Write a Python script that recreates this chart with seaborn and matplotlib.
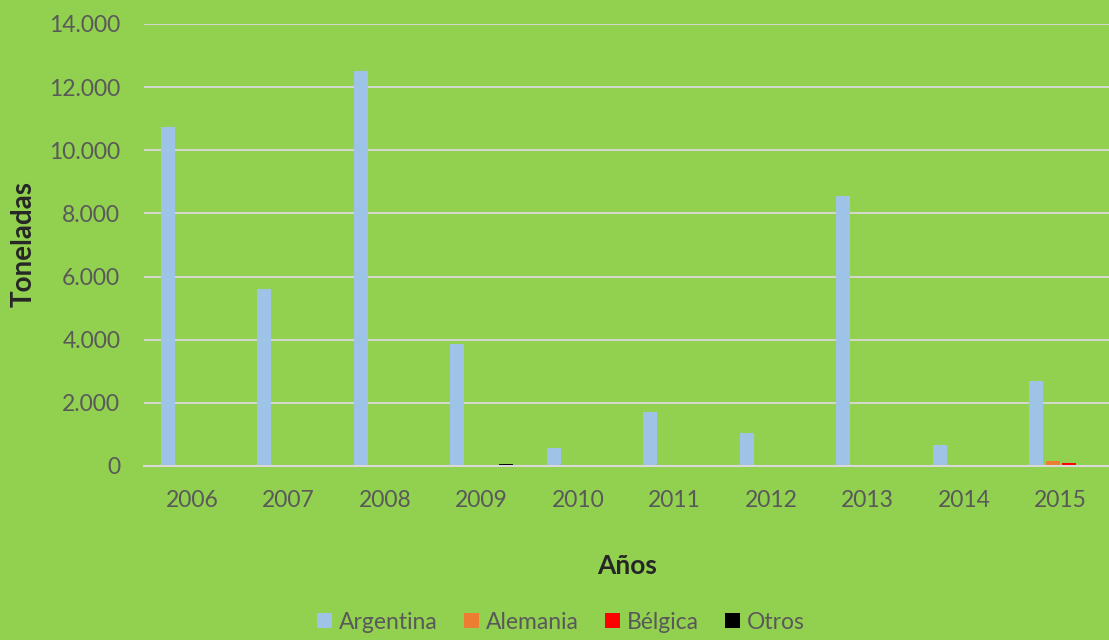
import pandas as pd
import numpy as np
import seaborn as sns
from matplotlib import pyplot as plt
from matplotlib.ticker import FuncFormatter, MultipleLocator

years = ['2006', '2007', '2008', '2009', '2010', '2011', '2012', '2013', '2014', '2015']
argentina = [10750, 5620, 12500, 3860, 570, 1710, 1040, 8550, 660, 2690]
alemania = [0, 0, 0, 0, 0, 0, 0, 0, 0, 150]
belgica = [0, 0, 0, 0, 0, 0, 0, 0, 0, 100]
otros = [0, 0, 0, 60, 0, 0, 0, 0, 0, 0]
series = ['Argentina', 'Alemania', 'Bélgica', 'Otros']
colores = ['#9DC3E6', '#ED7D31', '#FF0000', '#000000']

df = pd.DataFrame({'Año': years * 4,
                   'Pais': np.repeat(series, len(years)),
                   'Toneladas': argentina + alemania + belgica + otros})

sns.set_style('white')
plt.rcParams['font.family'] = ['Lato', 'DejaVu Sans']
verde = '#92D050'

fig = plt.figure(figsize=(11.09, 6.4), dpi=100, facecolor=verde)
ax = fig.add_axes([0.1298, 0.272, 0.8702, 0.6905])
ax.set_facecolor(verde)

sns.barplot(data=df, x='Año', y='Toneladas', hue='Pais', hue_order=series,
            palette=colores, width=0.68, gap=0.15, saturation=1, linewidth=0,
            ax=ax, legend=True)

ax.set_ylim(0, 14000)
ax.yaxis.set_major_locator(MultipleLocator(2000))
ax.yaxis.set_major_formatter(FuncFormatter(lambda v, p: f"{int(v):,}".replace(',', '.')))
ax.grid(axis='y', color='#D9D9D9', linewidth=1.3)
ax.set_axisbelow(True)
for s in ['top', 'right', 'left']:
    ax.spines[s].set_visible(False)
ax.spines['bottom'].set_color('#D9D9D9')
ax.spines['bottom'].set_linewidth(1.5)
ax.tick_params(axis='both', length=0, labelsize=16.5, labelcolor='#595959')
ax.tick_params(axis='y', pad=17)
ax.tick_params(axis='x', pad=17)

ax.set_xlabel('')
ax.set_ylabel('')
fig.text(597 / 1109, 1 - 566 / 640, 'Años', fontsize=19, fontweight='bold', ha='left', va='center')
fig.text(24 / 1109, 1 - 244 / 640, 'Toneladas', fontsize=20, fontweight='bold',
         rotation=90, ha='center', va='center')

ax.legend_.remove()
handles, labels = ax.get_legend_handles_labels()
fig.legend(handles[:4], labels[:4], loc='center', bbox_to_anchor=(0.506, 0.028), ncol=4,
           frameon=False, fontsize=16.5, labelcolor='#595959', handlelength=0.65,
           handleheight=0.65, handletextpad=0.3, columnspacing=1.15)

fig.savefig('out.png', dpi=100, facecolor=verde)
